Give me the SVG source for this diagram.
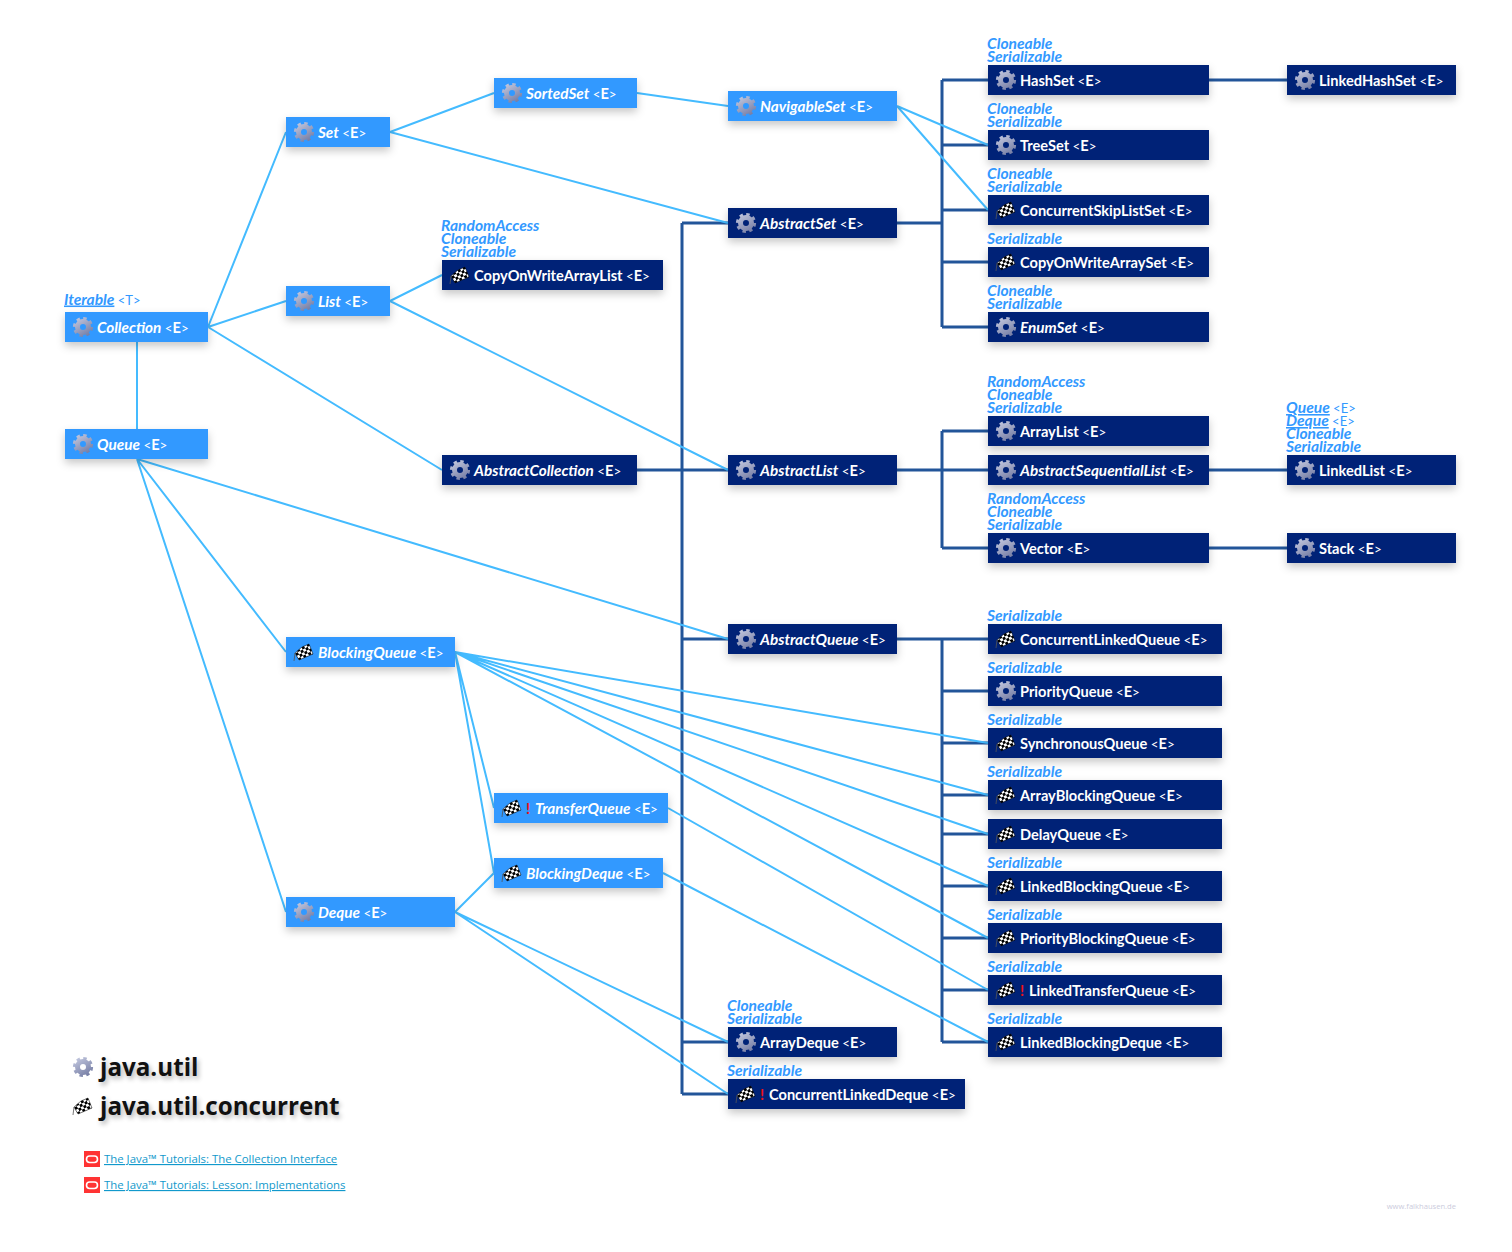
<svg xmlns="http://www.w3.org/2000/svg" width="1512" height="1252" viewBox="0 0 1512 1252">
<style>
text{font-family:"Lato","Open Sans","Liberation Sans",sans-serif;font-weight:700;white-space:pre}
.nl{fill:#39f}.nd{fill:#002277}
.box{filter:url(#sh)}
.t{font-size:14.6px;fill:#fff}
.i{font-style:italic;font-size:15.3px}
.g{font-size:13.4px;font-weight:400}
.a{font-size:15.6px;fill:#39f;font-style:italic}
.a .g{font-style:normal;font-size:13px}
.u{text-decoration:underline}
.lc{stroke:#44bbff;stroke-width:2;fill:none}
.dc{stroke:#225599;stroke-width:3;fill:none}
.leg{font-family:"Open Sans","Liberation Sans",sans-serif;font-size:24.2px;fill:#111;text-shadow:2px 3px 5px rgba(0,0,0,.3)}
.lnk{font-family:"Open Sans","Liberation Sans",sans-serif;font-size:11.4px;font-weight:400;fill:#1199cc;text-decoration:underline}
.wm{font-family:"Open Sans","Liberation Sans",sans-serif;font-size:7.6px;font-weight:400;fill:#ccd}
</style>
<defs>
<filter id="sh" x="-20%" y="-40%" width="140%" height="200%"><feDropShadow dx="0" dy="4" stdDeviation="4" flood-color="#000" flood-opacity=".22"/></filter>
<linearGradient id="gr" gradientUnits="userSpaceOnUse" x1="-6" y1="-10" x2="6" y2="10"><stop offset="0" stop-color="#c4c9e0"/><stop offset="1" stop-color="#7078a0"/></linearGradient>
<pattern id="ck" width="5.6" height="5.6" patternUnits="userSpaceOnUse" patternTransform="rotate(-28)"><rect width="5.6" height="5.6" fill="#fff"/><rect width="2.8" height="2.8" fill="#000"/><rect x="2.8" y="2.8" width="2.8" height="2.8" fill="#000"/></pattern>
<g id="gear"><circle r="5.5" fill="none" stroke="url(#gr)" stroke-width="5"/><circle r="8.6" fill="none" stroke="url(#gr)" stroke-width="3" stroke-dasharray="3.4 3.35"/></g>
<g id="flag"><path d="M-9 1-2-5 5-8 9 2 2 5-5 8Z" fill="url(#ck)" stroke="#000" stroke-width=".5"/><path d="M-10 9-9 1" stroke="#555" stroke-width=".8" fill="none"/></g>
<g id="ora"><rect width="16" height="16" fill="#f33"/><rect x="2.5" y="5" width="11" height="6.5" rx="3.2" fill="none" stroke="#fff" stroke-width="1.6"/></g>
</defs>
<rect width="1512" height="1252" fill="#fff"/>
<g id="connectors">
<path class="dc" d="M637 470H988M682 223V1094M682 223H728M682 639H728M682 1042H728M682 1094H728M897 223H942M942 80V327M942 80H988M942 145H988M942 210H988M942 262H988M942 327H988M942 431V548M942 431H988M942 548H988M897 639H988M942 639V1042M942 691H988M942 743H988M942 795H988M942 834H988M942 886H988M942 938H988M942 990H988M942 1042H988M1209 80H1287M1209 470H1287M1209 548H1287"/>
<path class="lc" d="M208 327 286 132M208 327 286 301M208 327 442 470M137 342V429M390 132 494 93M390 132 728 223M637 93 728 106M897 106 988 145M897 106 988 210M390 301 442 275M390 301 728 470M137 459 286 652M137 459 286 912M137 459 728 639M455 652 494 808M455 652 494 873M455 652 988 743M455 652 988 795M455 652 988 834M455 652 988 886M455 652 988 938M668 808 988 990M663 873 988 1042M455 912 494 873M455 912 728 1042M455 912 728 1094"/>
</g>
<g id="n-Collection"><rect class="box nl" x="65" y="312" width="143" height="30"/><use href="#gear" x="83" y="327"/><text class="t" x="97" y="332.5"><tspan class="i">Collection</tspan><tspan class="g"> &lt;</tspan>E<tspan class="g">&gt;</tspan></text><text class="a" x="64" y="304.5"><tspan class="u">Iterable</tspan><tspan class="g"> &lt;T&gt;</tspan></text></g>
<g id="n-Queue"><rect class="box nl" x="65" y="429" width="143" height="30"/><use href="#gear" x="83" y="444"/><text class="t" x="97" y="449.5"><tspan class="i">Queue</tspan><tspan class="g"> &lt;</tspan>E<tspan class="g">&gt;</tspan></text></g>
<g id="n-Set"><rect class="box nl" x="286" y="117" width="104" height="30"/><use href="#gear" x="304" y="132"/><text class="t" x="318" y="137.5"><tspan class="i">Set</tspan><tspan class="g"> &lt;</tspan>E<tspan class="g">&gt;</tspan></text></g>
<g id="n-List"><rect class="box nl" x="286" y="286" width="104" height="30"/><use href="#gear" x="304" y="301"/><text class="t" x="318" y="306.5"><tspan class="i">List</tspan><tspan class="g"> &lt;</tspan>E<tspan class="g">&gt;</tspan></text></g>
<g id="n-SortedSet"><rect class="box nl" x="494" y="78" width="143" height="30"/><use href="#gear" x="512" y="93"/><text class="t" x="526" y="98.5"><tspan class="i">SortedSet</tspan><tspan class="g"> &lt;</tspan>E<tspan class="g">&gt;</tspan></text></g>
<g id="n-NavigableSet"><rect class="box nl" x="728" y="91" width="169" height="30"/><use href="#gear" x="746" y="106"/><text class="t" x="760" y="111.5"><tspan class="i">NavigableSet</tspan><tspan class="g"> &lt;</tspan>E<tspan class="g">&gt;</tspan></text></g>
<g id="n-BlockingQueue"><rect class="box nl" x="286" y="637" width="169" height="30"/><use href="#flag" x="304" y="652"/><text class="t" x="318" y="657.5"><tspan class="i">BlockingQueue</tspan><tspan class="g"> &lt;</tspan>E<tspan class="g">&gt;</tspan></text></g>
<g id="n-Deque"><rect class="box nl" x="286" y="897" width="169" height="30"/><use href="#gear" x="304" y="912"/><text class="t" x="318" y="917.5"><tspan class="i">Deque</tspan><tspan class="g"> &lt;</tspan>E<tspan class="g">&gt;</tspan></text></g>
<g id="n-TransferQueue"><rect class="box nl" x="494" y="793" width="174" height="30"/><use href="#flag" x="512" y="808"/><text class="t" x="526" y="813.5"><tspan fill="#e11">!</tspan><tspan class="i" x="535">TransferQueue</tspan><tspan class="g"> &lt;</tspan>E<tspan class="g">&gt;</tspan></text></g>
<g id="n-BlockingDeque"><rect class="box nl" x="494" y="858" width="169" height="30"/><use href="#flag" x="512" y="873"/><text class="t" x="526" y="878.5"><tspan class="i">BlockingDeque</tspan><tspan class="g"> &lt;</tspan>E<tspan class="g">&gt;</tspan></text></g>
<g id="n-AbstractSet"><rect class="box nd" x="728" y="208" width="169" height="30"/><use href="#gear" x="746" y="223"/><text class="t" x="760" y="228.5"><tspan class="i">AbstractSet</tspan><tspan class="g"> &lt;</tspan>E<tspan class="g">&gt;</tspan></text></g>
<g id="n-CopyOnWriteArrayList"><rect class="box nd" x="442" y="260" width="221" height="30"/><use href="#flag" x="460" y="275"/><text class="t" x="474" y="280.5">CopyOnWriteArrayList<tspan class="g"> &lt;</tspan>E<tspan class="g">&gt;</tspan></text><text class="a"><tspan x="441" y="231">RandomAccess</tspan><tspan x="441" y="244">Cloneable</tspan><tspan x="441" y="257">Serializable</tspan></text></g>
<g id="n-AbstractCollection"><rect class="box nd" x="442" y="455" width="195" height="30"/><use href="#gear" x="460" y="470"/><text class="t" x="474" y="475.5"><tspan class="i">AbstractCollection</tspan><tspan class="g"> &lt;</tspan>E<tspan class="g">&gt;</tspan></text></g>
<g id="n-AbstractList"><rect class="box nd" x="728" y="455" width="169" height="30"/><use href="#gear" x="746" y="470"/><text class="t" x="760" y="475.5"><tspan class="i">AbstractList</tspan><tspan class="g"> &lt;</tspan>E<tspan class="g">&gt;</tspan></text></g>
<g id="n-AbstractQueue"><rect class="box nd" x="728" y="624" width="169" height="30"/><use href="#gear" x="746" y="639"/><text class="t" x="760" y="644.5"><tspan class="i">AbstractQueue</tspan><tspan class="g"> &lt;</tspan>E<tspan class="g">&gt;</tspan></text></g>
<g id="n-HashSet"><rect class="box nd" x="988" y="65" width="221" height="30"/><use href="#gear" x="1006" y="80"/><text class="t" x="1020" y="85.5">HashSet<tspan class="g"> &lt;</tspan>E<tspan class="g">&gt;</tspan></text><text class="a"><tspan x="987" y="49">Cloneable</tspan><tspan x="987" y="62">Serializable</tspan></text></g>
<g id="n-TreeSet"><rect class="box nd" x="988" y="130" width="221" height="30"/><use href="#gear" x="1006" y="145"/><text class="t" x="1020" y="150.5">TreeSet<tspan class="g"> &lt;</tspan>E<tspan class="g">&gt;</tspan></text><text class="a"><tspan x="987" y="114">Cloneable</tspan><tspan x="987" y="127">Serializable</tspan></text></g>
<g id="n-ConcurrentSkipListSet"><rect class="box nd" x="988" y="195" width="221" height="30"/><use href="#flag" x="1006" y="210"/><text class="t" x="1020" y="215.5">ConcurrentSkipListSet<tspan class="g"> &lt;</tspan>E<tspan class="g">&gt;</tspan></text><text class="a"><tspan x="987" y="179">Cloneable</tspan><tspan x="987" y="192">Serializable</tspan></text></g>
<g id="n-CopyOnWriteArraySet"><rect class="box nd" x="988" y="247" width="221" height="30"/><use href="#flag" x="1006" y="262"/><text class="t" x="1020" y="267.5">CopyOnWriteArraySet<tspan class="g"> &lt;</tspan>E<tspan class="g">&gt;</tspan></text><text class="a"><tspan x="987" y="244">Serializable</tspan></text></g>
<g id="n-EnumSet"><rect class="box nd" x="988" y="312" width="221" height="30"/><use href="#gear" x="1006" y="327"/><text class="t" x="1020" y="332.5"><tspan class="i">EnumSet</tspan><tspan class="g"> &lt;</tspan>E<tspan class="g">&gt;</tspan></text><text class="a"><tspan x="987" y="296">Cloneable</tspan><tspan x="987" y="309">Serializable</tspan></text></g>
<g id="n-ArrayList"><rect class="box nd" x="988" y="416" width="221" height="30"/><use href="#gear" x="1006" y="431"/><text class="t" x="1020" y="436.5">ArrayList<tspan class="g"> &lt;</tspan>E<tspan class="g">&gt;</tspan></text><text class="a"><tspan x="987" y="387">RandomAccess</tspan><tspan x="987" y="400">Cloneable</tspan><tspan x="987" y="413">Serializable</tspan></text></g>
<g id="n-AbstractSequentialList"><rect class="box nd" x="988" y="455" width="221" height="30"/><use href="#gear" x="1006" y="470"/><text class="t" x="1020" y="475.5"><tspan class="i">AbstractSequentialList</tspan><tspan class="g"> &lt;</tspan>E<tspan class="g">&gt;</tspan></text></g>
<g id="n-Vector"><rect class="box nd" x="988" y="533" width="221" height="30"/><use href="#gear" x="1006" y="548"/><text class="t" x="1020" y="553.5">Vector<tspan class="g"> &lt;</tspan>E<tspan class="g">&gt;</tspan></text><text class="a"><tspan x="987" y="504">RandomAccess</tspan><tspan x="987" y="517">Cloneable</tspan><tspan x="987" y="530">Serializable</tspan></text></g>
<g id="n-LinkedHashSet"><rect class="box nd" x="1287" y="65" width="169" height="30"/><use href="#gear" x="1305" y="80"/><text class="t" x="1319" y="85.5">LinkedHashSet<tspan class="g"> &lt;</tspan>E<tspan class="g">&gt;</tspan></text></g>
<g id="n-LinkedList"><rect class="box nd" x="1287" y="455" width="169" height="30"/><use href="#gear" x="1305" y="470"/><text class="t" x="1319" y="475.5">LinkedList<tspan class="g"> &lt;</tspan>E<tspan class="g">&gt;</tspan></text><text class="a"><tspan x="1286" y="413" class="u">Queue</tspan><tspan class="g"> &lt;E&gt;</tspan><tspan x="1286" y="426" class="u">Deque</tspan><tspan class="g"> &lt;E&gt;</tspan><tspan x="1286" y="439">Cloneable</tspan><tspan x="1286" y="452">Serializable</tspan></text></g>
<g id="n-Stack"><rect class="box nd" x="1287" y="533" width="169" height="30"/><use href="#gear" x="1305" y="548"/><text class="t" x="1319" y="553.5">Stack<tspan class="g"> &lt;</tspan>E<tspan class="g">&gt;</tspan></text></g>
<g id="n-ConcurrentLinkedQueue"><rect class="box nd" x="988" y="624" width="234" height="30"/><use href="#flag" x="1006" y="639"/><text class="t" x="1020" y="644.5">ConcurrentLinkedQueue<tspan class="g"> &lt;</tspan>E<tspan class="g">&gt;</tspan></text><text class="a" x="987" y="621">Serializable</text></g>
<g id="n-PriorityQueue"><rect class="box nd" x="988" y="676" width="234" height="30"/><use href="#gear" x="1006" y="691"/><text class="t" x="1020" y="696.5">PriorityQueue<tspan class="g"> &lt;</tspan>E<tspan class="g">&gt;</tspan></text><text class="a" x="987" y="673">Serializable</text></g>
<g id="n-SynchronousQueue"><rect class="box nd" x="988" y="728" width="234" height="30"/><use href="#flag" x="1006" y="743"/><text class="t" x="1020" y="748.5">SynchronousQueue<tspan class="g"> &lt;</tspan>E<tspan class="g">&gt;</tspan></text><text class="a" x="987" y="725">Serializable</text></g>
<g id="n-ArrayBlockingQueue"><rect class="box nd" x="988" y="780" width="234" height="30"/><use href="#flag" x="1006" y="795"/><text class="t" x="1020" y="800.5">ArrayBlockingQueue<tspan class="g"> &lt;</tspan>E<tspan class="g">&gt;</tspan></text><text class="a" x="987" y="777">Serializable</text></g>
<g id="n-DelayQueue"><rect class="box nd" x="988" y="819" width="234" height="30"/><use href="#flag" x="1006" y="834"/><text class="t" x="1020" y="839.5">DelayQueue<tspan class="g"> &lt;</tspan>E<tspan class="g">&gt;</tspan></text></g>
<g id="n-LinkedBlockingQueue"><rect class="box nd" x="988" y="871" width="234" height="30"/><use href="#flag" x="1006" y="886"/><text class="t" x="1020" y="891.5">LinkedBlockingQueue<tspan class="g"> &lt;</tspan>E<tspan class="g">&gt;</tspan></text><text class="a" x="987" y="868">Serializable</text></g>
<g id="n-PriorityBlockingQueue"><rect class="box nd" x="988" y="923" width="234" height="30"/><use href="#flag" x="1006" y="938"/><text class="t" x="1020" y="943.5">PriorityBlockingQueue<tspan class="g"> &lt;</tspan>E<tspan class="g">&gt;</tspan></text><text class="a" x="987" y="920">Serializable</text></g>
<g id="n-LinkedTransferQueue"><rect class="box nd" x="988" y="975" width="234" height="30"/><use href="#flag" x="1006" y="990"/><text class="t" x="1020" y="995.5"><tspan fill="#e11">!</tspan><tspan x="1029">LinkedTransferQueue</tspan><tspan class="g"> &lt;</tspan>E<tspan class="g">&gt;</tspan></text><text class="a" x="987" y="972">Serializable</text></g>
<g id="n-LinkedBlockingDeque"><rect class="box nd" x="988" y="1027" width="234" height="30"/><use href="#flag" x="1006" y="1042"/><text class="t" x="1020" y="1047.5">LinkedBlockingDeque<tspan class="g"> &lt;</tspan>E<tspan class="g">&gt;</tspan></text><text class="a" x="987" y="1024">Serializable</text></g>
<g id="n-ArrayDeque"><rect class="box nd" x="728" y="1027" width="169" height="30"/><use href="#gear" x="746" y="1042"/><text class="t" x="760" y="1047.5">ArrayDeque<tspan class="g"> &lt;</tspan>E<tspan class="g">&gt;</tspan></text><text class="a"><tspan x="727" y="1011">Cloneable</tspan><tspan x="727" y="1024">Serializable</tspan></text></g>
<g id="n-ConcurrentLinkedDeque"><rect class="box nd" x="728" y="1079" width="237" height="30"/><use href="#flag" x="746" y="1094"/><text class="t" x="760" y="1099.5"><tspan fill="#e11">!</tspan><tspan x="769">ConcurrentLinkedDeque</tspan><tspan class="g"> &lt;</tspan>E<tspan class="g">&gt;</tspan></text><text class="a" x="727" y="1076">Serializable</text></g>
<g id="legend"><use href="#gear" x="83" y="1067"/><text class="leg" x="100" y="1076">java.util</text><use href="#flag" x="83" y="1106"/><text class="leg" x="100" y="1115">java.util.concurrent</text></g>
<g id="links"><use href="#ora" x="84" y="1151"/><text class="lnk" x="104" y="1163">The Java™ Tutorials: The Collection Interface</text><use href="#ora" x="84" y="1177"/><text class="lnk" x="104" y="1189">The Java™ Tutorials: Lesson: Implementations</text></g>
<text class="wm" x="1456" y="1209" text-anchor="end">www.falkhausen.de</text>
</svg>
